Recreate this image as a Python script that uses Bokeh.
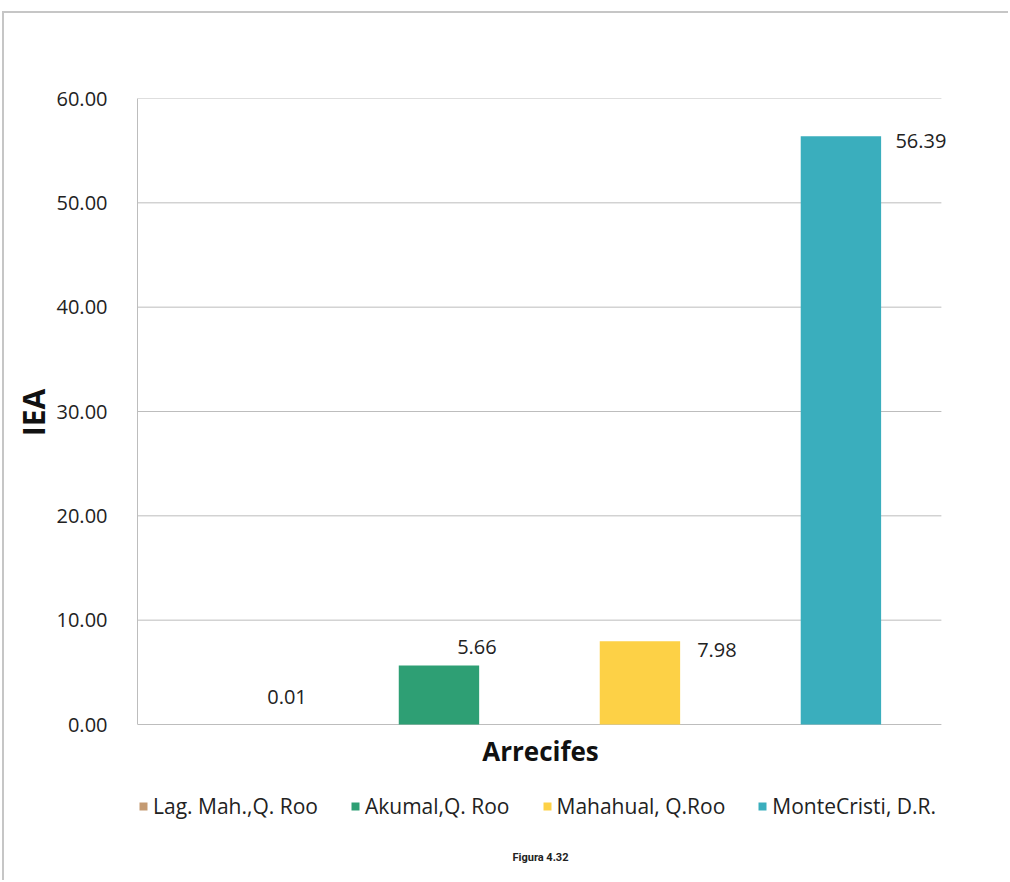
from bokeh.plotting import figure
from bokeh.models import (ColumnDataSource, Range1d, Legend, LegendItem, Label,
                          NumeralTickFormatter, LabelSet)
from bokeh.core.properties import value
from bokeh.embed import file_html
from bokeh.resources import INLINE

# ---- data ----
series = ["Lag. Mah.,Q. Roo", "Akumal,Q. Roo", "Mahahual, Q.Roo", "MonteCristi, D.R."]
iea = [0.01, 5.66, 7.98, 56.39]
value_labels = ["0.01", "5.66", "7.98", "56.39"]
y_ticks = [0, 10, 20, 30, 40, 50, 60]
x_title = "Arrecifes"
y_title = "IEA"
caption = "Figura 4.32"

# ---- styles ----
colors = ["#c49a72", "#2e9f74", "#fdd146", "#3aaebd"]
label_dx = [49, 38, 77, 80]
label_dy = [27, 18, -9, -5]
FONT = "Open Sans"
GRID = "#bdbdbd"
FRAME = "2px solid #c6c6c6"
YTITLE_PAD = "\u00a0" * 20   # lifts the rotated y title to the middle of the value range

y_min, y_max = y_ticks[0], y_ticks[-1]
pos = list(range(len(series)))             # slot index of each series
slot_lo, slot_hi = -0.5, len(series) - 0.5
extra_right = 0.1                           # room right of the last gridline for labels
below_frac = (882 - 724) / (724 - 98)       # plot area extends below 0 to hold titles/legend
y_lo = y_min - (y_max - y_min) * below_frac

src = ColumnDataSource(dict(x=pos, series=series, iea=iea, lab=value_labels, color=colors,
                            dx=label_dx, dy=label_dy))
grid_src = ColumnDataSource(dict(y=y_ticks, x0=[slot_lo] * len(y_ticks),
                                 x1=[slot_hi] * len(y_ticks)))

p = figure(width=1006, height=869, x_range=Range1d(slot_lo, slot_hi + extra_right),
           y_range=Range1d(y_lo, y_max), x_axis_type=None, output_backend="svg",
           toolbar_location=None,
           min_border_left=133, min_border_top=85, min_border_right=49, min_border_bottom=0)
p.styles = {"border-top": FRAME, "border-left": FRAME,
            "margin-left": "2px", "margin-top": "11px"}
p.outline_line_color = None
p.background_fill_color = "white"
p.border_fill_color = "white"
p.xgrid.grid_line_color = None
p.ygrid.grid_line_color = None

# horizontal gridlines (incl. base line) limited to the category slots
p.segment(x0="x0", x1="x1", y0="y", y1="y", source=grid_src, line_color=GRID, line_width=1)

r = p.vbar(x="x", top="iea", width=0.4, source=src, fill_color="color", line_color=None)

labels = LabelSet(x="x", y="iea", text="lab", source=src, x_offset="dx", y_offset="dy",
                  text_align="center", text_baseline="middle", text_font=value(FONT),
                  text_font_size="20px", text_color="#222222")
p.add_layout(labels)

# y axis (line only over the value range)
p.yaxis.bounds = (y_min, y_max)
p.yaxis.ticker = y_ticks
p.yaxis.formatter = NumeralTickFormatter(format="0.00")
p.yaxis.major_tick_line_color = None
p.yaxis.minor_tick_line_color = None
p.yaxis.axis_line_color = GRID
p.yaxis.major_label_text_font = FONT
p.yaxis.major_label_text_font_size = "20px"
p.yaxis.major_label_text_color = "#222222"
p.yaxis.major_label_standoff = 24
p.yaxis.axis_label = YTITLE_PAD + y_title
p.yaxis.axis_label_text_font = FONT
p.yaxis.axis_label_text_font_size = "30px"
p.yaxis.axis_label_text_font_style = "bold"
p.yaxis.axis_label_text_color = "#111111"
p.yaxis.axis_label_standoff = 0

# x title
xt = Label(x=403, y=132, x_units="screen", y_units="screen", text=x_title,
           text_align="center", text_baseline="middle", text_font=FONT,
           text_font_size="26px", text_font_style="bold", text_color="#111111")
p.add_layout(xt)

items = [LegendItem(label=s, renderers=[r], index=i) for i, s in enumerate(series)]
legend = Legend(items=items, orientation="horizontal", location=(1, 62),
                label_text_font=FONT, label_text_font_size="21px", label_text_color="#222222",
                glyph_width=10, glyph_height=10, label_standoff=5, spacing=32,
                border_line_color=None, background_fill_alpha=0, margin=0, padding=0)
p.add_layout(legend, "center")

cap = Label(x=403, y=25, x_units="screen", y_units="screen", text=caption,
            text_align="center", text_baseline="middle", text_font="Roboto",
            text_font_size="11px", text_font_style="bold", text_color="#222222")
p.add_layout(cap)

open("out.html", "w").write(file_html(p, INLINE))
